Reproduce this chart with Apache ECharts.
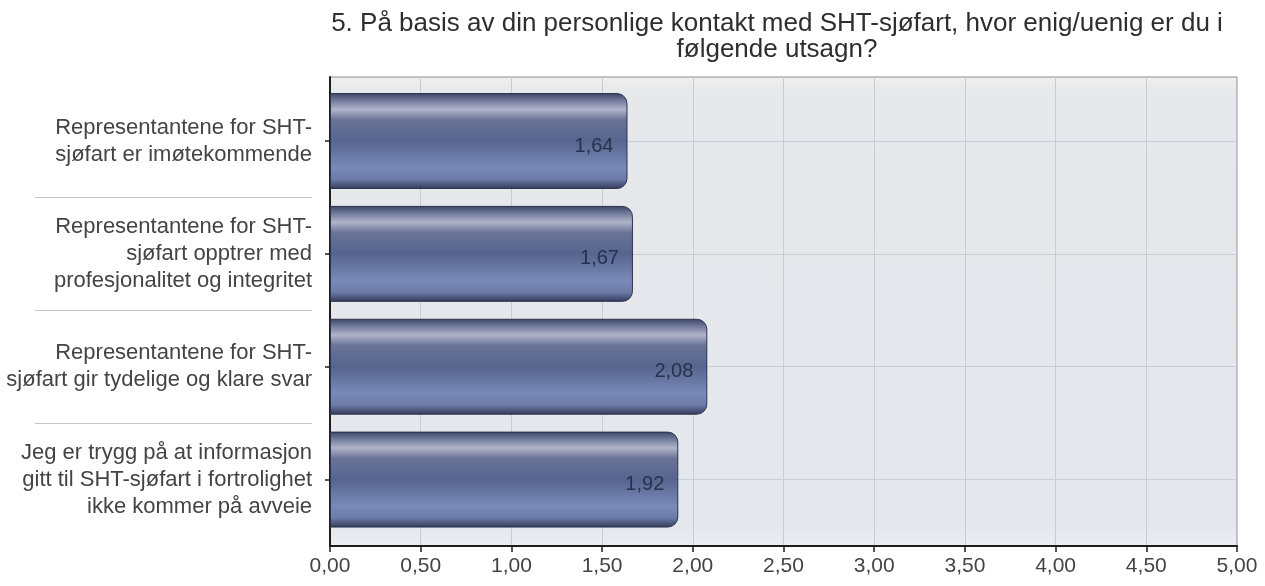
<!DOCTYPE html>
<html>
<head>
<meta charset="utf-8">
<script src="https://cdn.jsdelivr.net/npm/echarts@6/dist/echarts.min.js"></script>
<style>
  html, body { margin: 0; padding: 0; background: #fff; }
  #chart { width: 1265px; height: 586px; }
</style>
</head>
<body>
<div id="chart"></div>
<script>
// data
var categories = [
  'Representantene for SHT-\nsjøfart er imøtekommende',
  'Representantene for SHT-\nsjøfart opptrer med\nprofesjonalitet og integritet',
  'Representantene for SHT-\nsjøfart gir tydelige og klare svar',
  'Jeg er trygg på at informasjon\ngitt til SHT-sjøfart i fortrolighet\nikke kommer på avveie'
];
var values = [1.64, 1.67, 2.08, 1.92];
var axisMin = 0, axisMax = 5, axisStep = 0.5;
var titleText = '5. På basis av din personlige kontakt med SHT-sjøfart, hvor enig/uenig er du i\nfølgende utsagn?';

function fmt(v) {
  return v.toFixed(2).replace('.', ',');
}

var font = 'Liberation Sans, Arial, sans-serif';
var chart = echarts.init(document.getElementById('chart'));

var barFill = new echarts.graphic.LinearGradient(0, 0, 0, 1, [
  { offset: 0, color: '#3b4363' },
  { offset: 0.07, color: '#6c7597' },
  { offset: 0.17, color: '#b0b4c9' },
  { offset: 0.28, color: '#6a7397' },
  { offset: 0.5, color: '#56648e' },
  { offset: 0.78, color: '#7b89b8' },
  { offset: 0.9, color: '#6c7aa7' },
  { offset: 1, color: '#323a5a' }
]);

chart.setOption({
  animation: false,
  title: {
    text: titleText,
    left: 772,
    textAlign: 'center',
    top: 6,
    textStyle: { fontFamily: font, fontSize: 26, fontWeight: 'normal', color: '#2e2e2e', lineHeight: 26 }
  },
  grid: [
    {
      // plot background + value axis
      left: 330, right: 28, top: 77, bottom: 40,
      show: true,
      borderColor: '#8c8c8c',
      borderWidth: 1,
      backgroundColor: new echarts.graphic.LinearGradient(0, 0, 0, 1, [
        { offset: 0, color: '#f0f0ea' },
        { offset: 0.035, color: '#e6e8eb' },
        { offset: 0.96, color: '#e4e7ec' },
        { offset: 1, color: '#eceef3' }
      ])
    },
    // bars
    { left: 330, right: 28, top: 84.6, bottom: 50 },
    // separators between category labels
    { left: 35, width: 277, top: 84.6, bottom: 50 }
  ],
  xAxis: [
    {
      gridIndex: 0,
      type: 'value',
      min: axisMin, max: axisMax, interval: axisStep,
      axisLine: { show: true, lineStyle: { color: '#1e1e1e', width: 2 } },
      axisTick: { show: true, length: 6, lineStyle: { color: '#1e1e1e', width: 1.5 } },
      axisLabel: {
        margin: 10,
        fontFamily: font, fontSize: 21, color: '#444',
        formatter: function (v) { return fmt(v); }
      },
      splitLine: { show: true, lineStyle: { color: '#c9ccd2', width: 1 } }
    },
    {
      gridIndex: 1,
      type: 'value',
      min: axisMin, max: axisMax,
      show: false
    },
    {
      gridIndex: 2,
      type: 'value',
      show: false
    }
  ],
  yAxis: [
    {
      gridIndex: 0,
      type: 'value',
      axisLine: { show: true, lineStyle: { color: '#1e1e1e', width: 2 } },
      axisTick: { show: false },
      axisLabel: { show: false },
      splitLine: { show: false }
    },
    {
      gridIndex: 1,
      type: 'category',
      inverse: true,
      data: categories,
      axisLine: { show: false },
      axisTick: { show: true, alignWithLabel: true, length: 5, lineStyle: { color: '#1e1e1e', width: 1.5 } },
      axisLabel: {
        margin: 18,
        fontFamily: font, fontSize: 22, color: '#444', lineHeight: 27, align: 'right'
      },
      splitLine: { show: false }
    },
    {
      gridIndex: 2,
      type: 'category',
      inverse: true,
      data: categories,
      axisLine: { show: false },
      axisTick: { show: false },
      axisLabel: { show: false },
      splitLine: {
        show: true,
        showMinLine: false,
        showMaxLine: false,
        lineStyle: { color: '#c4c4c4', width: 1 }
      }
    }
  ],
  series: [
    {
      // horizontal guide lines at the category centres, drawn under the bars
      type: 'line',
      xAxisIndex: 1,
      yAxisIndex: 1,
      data: [],
      z: 1,
      markLine: {
        silent: true,
        symbol: 'none',
        z: 1,
        label: { show: false },
        lineStyle: { color: '#c9ccd2', width: 1, type: 'solid' },
        data: categories.map(function (c) { return { yAxis: c }; })
      }
    },
    {
      type: 'bar',
      xAxisIndex: 1,
      yAxisIndex: 1,
      data: values,
      z: 3,
      barCategoryGap: '15%',
      itemStyle: {
        color: barFill,
        borderColor: '#2c3350',
        borderWidth: 1,
        borderRadius: [0, 10, 10, 0]
      },
      label: {
        show: true,
        position: 'insideRight',
        distance: 14,
        offset: [0, 5],
        fontFamily: font, fontSize: 20, color: '#27304d',
        formatter: function (p) { return fmt(p.value); }
      }
    }
  ]
});
</script>
</body>
</html>
